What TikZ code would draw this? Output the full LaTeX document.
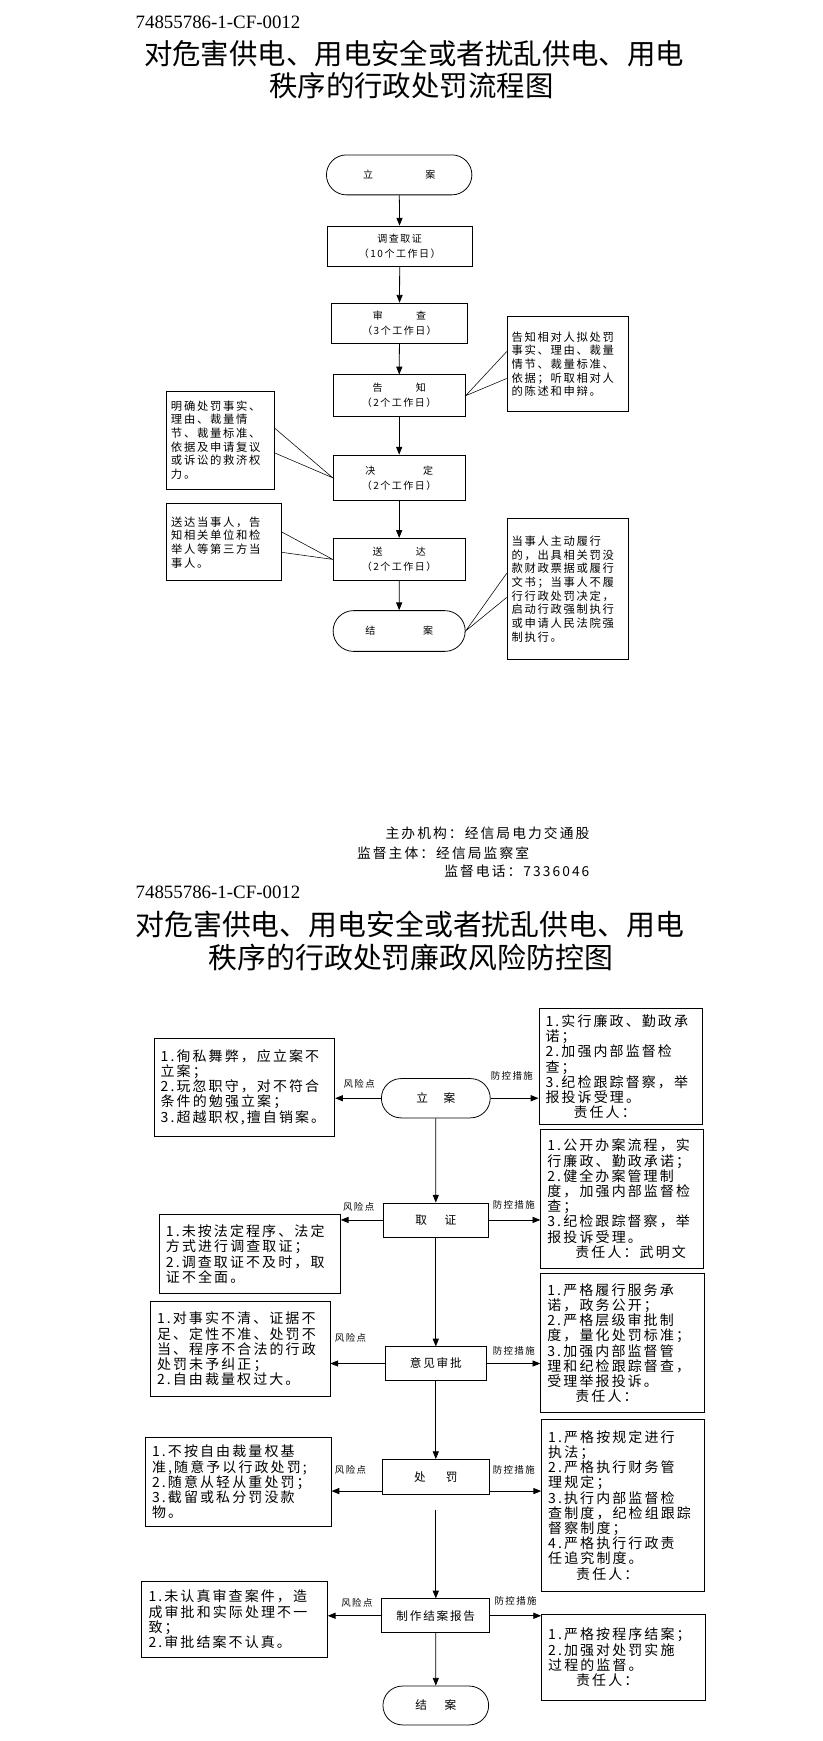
\documentclass[tikz,border=0pt]{standalone}
\usepackage{fontspec}
\setmainfont{Liberation Serif}
\newfontfamily\cjk{Noto Sans CJK SC}
\newfontfamily\cjksp[LetterSpace=15]{Noto Sans CJK SC}
\usepackage{tikz}
\usetikzlibrary{shapes,arrows.meta,positioning,calc}

\newcommand{\fsz}[2]{\fontsize{#1}{#2}\selectfont}

\begin{document}
\begin{tikzpicture}[
    x=1pt, y=-1pt,
    every node/.style={inner sep=0pt},
    codeline/.style={anchor=west, font=\fsz{17}{20}},
    heading/.style={font=\cjk\fsz{25.6}{29}},
    footline/.style={font=\cjksp\fsz{12.4}{14}},
    stage/.style={rectangle, draw, line width=0.7pt, align=center, font=\cjksp\fsz{9}{13.5}},
    endpoint/.style={rounded rectangle, draw, line width=0.7pt, font=\cjksp\fsz{9}{13.5}},
    note/.style={rectangle, draw, line width=0.7pt, align=left, inner xsep=4pt, font=\cjksp\fsz{10.2}{12.3}},
    mainstep/.style={rectangle, draw, line width=0.7pt, font=\cjksp\fsz{10.5}{12}},
    mainend/.style={rounded rectangle, draw, line width=0.7pt, font=\cjksp\fsz{10.5}{12}},
    riskbox/.style={rectangle, draw, line width=0.7pt, align=left, inner xsep=6pt, font=\cjksp\fsz{12.6}{13.7}},
    tag/.style={font=\cjksp\fsz{8.5}{10}},
    arrow/.style={-{Triangle[length=7pt,width=5.5pt]}, line width=0.7pt},
    wedge/.style={line width=0.5pt},
]
    \useasboundingbox (0,0) rectangle (741,1568);

    % flow chart
    \node[codeline] (code1) at (122,20) {74855786-1-CF-0012};
    \node[heading] (title1) at (373,48) {对危害供电、用电安全或者扰乱供电、用电};
    \node[heading] (title1b) at (370.5,77) {秩序的行政处罚流程图};

    \node[endpoint, minimum width=131pt, minimum height=36pt] (lian) at (359.5,157.5) {立\hspace{47pt}案};
    \node[stage, minimum width=130pt, minimum height=36.5pt] (diaocha) at (360,221.8) {调查取证\\（10个工作日）};
    \node[stage, minimum width=122.5pt, minimum height=36pt] (shencha) at (359.8,291) {审\hspace{30pt}查\\（3个工作日）};
    \node[stage, minimum width=119pt, minimum height=37.6pt] (gaozhi) at (359.5,356.4) {告\hspace{30pt}知\\（2个工作日）};
    \node[stage, minimum width=119pt, minimum height=41pt] (jueding) at (359.5,430.3) {决\hspace{43pt}定\\（2个工作日）};
    \node[stage, minimum width=119pt, minimum height=38pt] (songda) at (359.5,503.8) {送\hspace{30pt}达\\（2个工作日）};
    \node[endpoint, minimum width=119pt, minimum height=36.7pt] (jiean) at (359.5,568.3) {结\hspace{43pt}案};

    \node[note, text width=101.6pt, minimum height=85.7pt] (gzNote) at (511.5,327.9) {告知相对人拟处罚\\事实、理由、裁量\\情节、裁量标准、\\依据；听取相对人\\的陈述和申辩。};
    \node[note, text width=89pt, minimum height=88.5pt] (jdNote) at (198.5,396.3) {明确处罚事实、\\理由、裁量情\\节、裁量标准、\\依据及申请复议\\或诉讼的救济权\\力。};
    \node[note, text width=95.7pt, minimum height=69.2pt] (sdNote) at (201.9,488.4) {送达当事人，告\\知相关单位和检\\举人等第三方当\\事人。};
    \node[note, text width=101.6pt, minimum height=127.3pt] (jaNote) at (511.5,530.4) {当事人主动履行\\的，出具相关罚没\\款财政票据或履行\\文书；当事人不履\\行行政处罚决定，\\启动行政强制执行\\或申请人民法院强\\制执行。};

    \draw[arrow] (lian) -- (diaocha);
    \draw[arrow] (diaocha) -- (shencha);
    \draw[arrow] (shencha) -- (gaozhi);
    \draw[arrow] (gaozhi) -- (jueding);
    \draw[arrow] (jueding) -- (songda);
    \draw[arrow] (songda) -- (jiean);

    \draw[wedge] ($(gzNote.north west)!0.37!(gzNote.south west)$) -- (gaozhi.east) -- ($(gzNote.north west)!0.65!(gzNote.south west)$);
    \draw[wedge] ($(jdNote.north east)!0.38!(jdNote.south east)$) -- (jueding.west) -- ($(jdNote.north east)!0.63!(jdNote.south east)$);
    \draw[wedge] ($(sdNote.north east)!0.37!(sdNote.south east)$) -- (songda.west) -- ($(sdNote.north east)!0.63!(sdNote.south east)$);
    \draw[wedge] ($(jaNote.north west)!0.39!(jaNote.south west)$) -- (jiean.east) -- ($(jaNote.north west)!0.56!(jaNote.south west)$);

    \node[footline, anchor=east] (host) at (531,750) {主办机构：经信局电力交通股};
    \node[footline, anchor=west] (superv) at (321.4,768) {监督主体：经信局监察室};
    \node[footline, anchor=east] (phone) at (531,785) {监督电话：7336046};

    % risk chart
    \node[codeline] (code2) at (122,803.5) {74855786-1-CF-0012};
    \node[heading, font=\cjk\fsz{26}{29}] (title2) at (369,832.7) {对危害供电、用电安全或者扰乱供电、用电};
    \node[heading, font=\cjk\fsz{26}{29}] (title2b) at (370,862.7) {秩序的行政处罚廉政风险防控图};

    \node[mainend, minimum width=98pt, minimum height=35.4pt] (liAn) at (392.5,989.1) {立\hspace{14pt}案};
    \node[mainstep, minimum width=95.2pt, minimum height=30.6pt] (quZheng) at (392.5,1098.7) {取\hspace{16pt}证};
    \node[mainstep, minimum width=91.2pt, minimum height=30pt] (shenPi) at (392.5,1228) {意见审批};
    \node[mainstep, minimum width=95.9pt, minimum height=31.5pt] (chuFa) at (392.5,1330.2) {处\hspace{18pt}罚};
    \node[mainstep, minimum width=97.3pt, minimum height=30.5pt] (baoGao) at (392.5,1455.2) {制作结案报告};
    \node[mainend, minimum width=95.2pt, minimum height=35pt] (jieAn) at (392.5,1536) {结\hspace{16pt}案};

    \node[riskbox, text width=150.8pt, minimum height=88.5pt] (riskA) at (220.1,979) {1.徇私舞弊，应立案不\\立案；\\2.玩忽职守，对不符合\\条件的勉强立案；\\3.超越职权,擅自销案。};
    \node[riskbox, text width=151.1pt, minimum height=71pt] (riskB) at (225,1129.5) {1.未按法定程序、法定\\方式进行调查取证；\\2.调查取证不及时，取\\证不全面。};
    \node[riskbox, text width=149.8pt, minimum height=86pt] (riskC) at (216.3,1215) {1.对事实不清、证据不\\足、定性不准、处罚不\\当、程序不合法的行政\\处罚未予纠正；\\2.自由裁量权过大。};
    \node[riskbox, text width=155.2pt, minimum height=79.5pt] (riskD) at (214.6,1334.7) {1.不按自由裁量权基\\准,随意予以行政处罚;\\2.随意从轻从重处罚；\\3.截留或私分罚没款\\物。};
    \node[riskbox, text width=155.1pt, minimum height=69pt] (riskE) at (211.3,1458.5) {1.未认真审查案件，造\\成审批和实际处理不一\\致；\\2.审批结案不认真。};

    \node[riskbox, text width=135.1pt, minimum height=104.6pt] (ctrlA) at (558.9,960.7) {1.实行廉政、勤政承\\诺；\\2.加强内部监督检\\查；\\3.纪检跟踪督察，举\\报投诉受理。\\\hspace*{2em}责任人：};
    \node[riskbox, text width=134.4pt, minimum height=124.5pt] (ctrlB) at (560.2,1079.7) {1.公开办案流程，实\\行廉政、勤政承诺；\\2.健全办案管理制\\度，加强内部监督检\\查；\\3.纪检跟踪督察，举\\报投诉受理。\\\hspace*{2em}责任人：武明文};
    \node[riskbox, text width=135pt, minimum height=125.4pt] (ctrlC) at (560.5,1209.7) {1.严格履行服务承\\诺，政务公开；\\2.严格层级审批制\\度，量化处罚标准；\\3.加强内部监督管\\理和纪检跟踪督查，\\受理举报投诉。\\\hspace*{2em}责任人：};
    \node[riskbox, text width=134.3pt, minimum height=155.5pt] (ctrlD) at (560.9,1355.8) {1.严格按规定进行\\执法；\\2.严格执行财务管\\理规定；\\3.执行内部监督检\\查制度，纪检组跟踪\\督察制度；\\4.严格执行行政责\\任追究制度。\\\hspace*{2em}责任人：};
    \node[riskbox, text width=136pt, minimum height=77.4pt] (ctrlE) at (561.7,1492.7) {1.严格按程序结案；\\2.加强对处罚实施\\过程的监督。\\\hspace*{2em}责任人：};

    \node[tag] (riskTagA) at (323.5,976) {风险点};
    \node[tag] (ctrlTagA) at (461,968.7) {防控措施};
    \node[tag] (riskTagB) at (323,1087) {风险点};
    \node[tag] (ctrlTagB) at (462.7,1085) {防控措施};
    \node[tag] (riskTagC) at (315.7,1205) {风险点};
    \node[tag] (ctrlTagC) at (462.7,1216.3) {防控措施};
    \node[tag] (riskTagD) at (315.7,1323.4) {风险点};
    \node[tag] (ctrlTagD) at (462.7,1323.4) {防控措施};
    \node[tag] (riskTagE) at (321.5,1443.5) {风险点};
    \node[tag] (ctrlTagE) at (464.4,1442) {防控措施};

    \draw[arrow] (liAn) -- (quZheng);
    \draw[arrow] (quZheng) -- (shenPi);
    \draw[arrow] (shenPi) -- (chuFa);
    \draw[arrow] ([yshift=-13.5pt]chuFa.south) -- (baoGao);
    \draw[arrow] (baoGao) -- (jieAn);

    \draw[arrow] (liAn.west) -- (liAn.west -| riskA.east);
    \draw[arrow] (liAn.east) -- (liAn.east -| ctrlA.west);
    \draw[arrow] (quZheng.west) -- (quZheng.west -| riskB.east);
    \draw[arrow] (quZheng.east) -- (quZheng.east -| ctrlB.west);
    \draw[arrow] (shenPi.west) -- (shenPi.west -| riskC.east);
    \draw[arrow] (shenPi.east) -- (shenPi.east -| ctrlC.west);
    \draw[arrow] ([yshift=-12.7pt]chuFa.west) -- ([yshift=-12.7pt]chuFa.west -| riskD.east);
    \draw[arrow] ([yshift=-12.7pt]chuFa.east) -- ([yshift=-12.7pt]chuFa.east -| ctrlD.west);
    \draw[arrow] (baoGao.west) -- (baoGao.west -| riskE.east);
    \draw[arrow] (baoGao.east) -- (baoGao.east -| ctrlE.west);
\end{tikzpicture}
\end{document}
